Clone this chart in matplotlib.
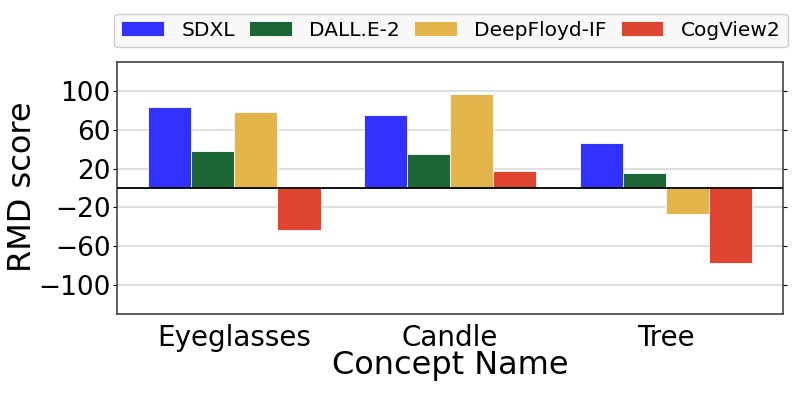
import numpy as np
import matplotlib
matplotlib.use('Agg')
import matplotlib.pyplot as plt

# Data
concepts = ['Eyeglasses', 'Candle', 'Tree']
models = ['SDXL', 'DALL.E-2', 'DeepFloyd-IF', 'CogView2']
sdxl = [84, 75, 46.5]
dalle2 = [38, 35, 15.5]
deepfloyd = [78, 97, -27]
cogview2 = [-43, 17.5, -77]
colors = ['#3232FF', '#1C6636', '#E2B44A', '#DF4431']

plt.rcParams['font.family'] = ['DejaVu Sans']

fig = plt.figure(figsize=(7.96, 3.95), dpi=100)
ax = fig.add_axes([0.147, 0.205, 0.837, 0.638])

x = np.arange(len(concepts))
width = 0.2
series = [sdxl, dalle2, deepfloyd, cogview2]
for i, (name, vals) in enumerate(zip(models, series)):
    ax.bar(x + (i - 1.5) * width, vals, width, color=colors[i], label=name,
           edgecolor='white', linewidth=0.6, zorder=3)

ax.axhline(0, color='black', linewidth=1.3, zorder=4)
ax.set_ylim(-130, 130)
ax.set_xlim(-0.543, 2.543)
ax.set_yticks([100, 60, 20, -20, -60, -100])
ax.yaxis.grid(True, color='#d9d9d9', linewidth=1.2, zorder=0)
ax.set_axisbelow(True)

ax.set_xticks(x)
ax.set_xticklabels(concepts, fontsize=20)
ax.tick_params(axis='y', labelsize=19, length=3, pad=1.5, right=True)
ax.tick_params(axis='x', length=0, pad=7)
for s in ax.spines.values():
    s.set_color('#444444')
    s.set_linewidth(1.2)

ax.set_xlabel('Concept Name', fontsize=23, labelpad=-1)
ax.set_ylabel('RMD score', fontsize=23)
ax.yaxis.set_label_coords(-0.118, 0.505)

leg = ax.legend(loc='lower left', bbox_to_anchor=(-0.004, 1.061, 1.011, 0.14),
                mode='expand', ncol=4, fontsize=14.5, frameon=True,
                handlelength=2.1, handleheight=0.75,
                borderpad=0.35, handletextpad=0.88, borderaxespad=0)
leg.get_frame().set_facecolor('#f8f8f8')
leg.get_frame().set_edgecolor('#cccccc')
leg.get_frame().set_alpha(1)

fig.savefig('out.png', dpi=100)
